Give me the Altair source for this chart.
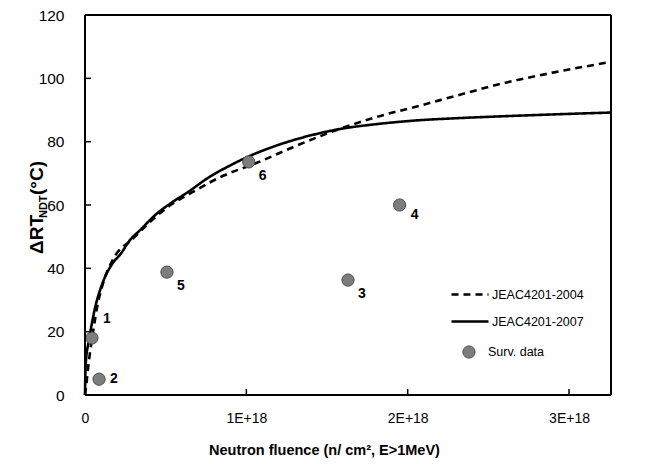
import altair as alt
import pandas as pd

# ---- data (x in units of 1E+18 n/cm2) ----
x_2007 = [0, 0.003, 0.01, 0.02, 0.03, 0.06, 0.11, 0.17, 0.22, 0.28, 0.34, 0.45, 0.53,
          0.65, 0.76, 0.9, 1.0, 1.2, 1.4, 1.58, 1.8, 2.08, 2.3, 2.58, 2.9, 3.26]
y_2007 = [0, 8, 13, 16, 19, 27, 35.5, 41.5, 44.5, 49, 52, 57.5, 60.5,
          64.5, 68.5, 72.5, 75, 79, 82, 84, 85.5, 86.8, 87.4, 88, 88.6, 89.2]
x_2004 = [0, 0.01, 0.02, 0.03, 0.05, 0.08, 0.11, 0.17, 0.3, 0.4, 0.53, 0.65, 0.86,
          1.05, 1.3, 1.55, 1.8, 2.07, 2.3, 2.58, 2.9, 3.26]
y_2004 = [0, 4, 9, 13, 20, 29, 35, 42.5, 49.5, 54.5, 60, 63.6, 69.3,
          73, 78.5, 83.5, 87.7, 91.3, 94.5, 98.3, 101.8, 105.2]
surv_x = [0.043, 0.087, 1.63, 1.95, 0.508, 1.015]
surv_y = [18.0, 5.0, 36.3, 60.0, 38.8, 73.6]
surv_lbl = ["1", "2", "3", "4", "5", "6"]
series_names = ["JEAC4201-2004", "JEAC4201-2007"]
x_tick_vals = [0, 1, 2, 3]
y_tick_vals = [0, 20, 40, 60, 80, 100, 120]

FONT = "'Liberation Sans', Arial, sans-serif"

curves = pd.concat([
    pd.DataFrame({"x": x_2004, "y": y_2004, "series": series_names[0], "o": range(len(x_2004))}),
    pd.DataFrame({"x": x_2007, "y": y_2007, "series": series_names[1], "o": range(len(x_2007))}),
])
pts = pd.DataFrame({"x": surv_x, "y": surv_y, "label": surv_lbl, "kind": "Surv. data"})
xt = pd.DataFrame({"v": x_tick_vals[1:]})
yt = pd.DataFrame({"v": y_tick_vals[1:-1]})

XS = alt.Scale(domain=[0, 3.26], nice=False, zero=False)
YS = alt.Scale(domain=[0, 120], nice=False, zero=False)
W, H = 526, 380

xaxis = alt.Axis(values=x_tick_vals, ticks=False, domain=False, grid=False,
                 labelExpr="datum.value == 0 ? '0' : datum.value + 'E+18'",
                 labelFont=FONT, labelFontSize=14, labelColor="black", labelPadding=16,
                 labelFlush=False,
                 title="Neutron fluence (n/ cm², E>1MeV)", titleFont=FONT, titleFontSize=14.5,
                 titleFontWeight="bold", titleColor="black", titleX=239, titleY=59,
                 titleAlign="center", titleBaseline="alphabetic")
yaxis = alt.Axis(values=y_tick_vals, ticks=False, domain=False, grid=False,
                 labelFont=FONT, labelFontSize=15.5, labelColor="black", labelPadding=21,
                 title=None)

lines = alt.Chart(curves).mark_line(color="black", strokeWidth=2.6, interpolate="monotone").encode(
    x=alt.X("x:Q", scale=XS, axis=xaxis),
    y=alt.Y("y:Q", scale=YS, axis=yaxis),
    order="o:Q",
    strokeDash=alt.StrokeDash("series:N",
        scale=alt.Scale(domain=series_names, range=[[7, 5], [1, 0]]),
        legend=alt.Legend(title=None, orient="none", legendX=365, legendY=259.5,
                          symbolType="stroke", symbolSize=1369, symbolStrokeWidth=2.6,
                          symbolStrokeColor="black", labelFont=FONT, labelFontSize=12.5,
                          labelColor="black", labelOffset=2, rowPadding=-8, padding=0)),
)

points = alt.Chart(pts).mark_circle(size=150, opacity=1, stroke="#4d4d4d", strokeWidth=1).encode(
    x=alt.X("x:Q", scale=XS),
    y=alt.Y("y:Q", scale=YS),
    color=alt.Color("kind:N", scale=alt.Scale(domain=["Surv. data"], range=["#7d7d7d"]),
        legend=alt.Legend(title=None, orient="none", legendX=377, legendY=330,
                          symbolType="circle", symbolSize=150, symbolStrokeColor="#4d4d4d",
                          symbolStrokeWidth=1, symbolOpacity=1,
                          labelFont=FONT, labelFontSize=12.5, labelColor="black",
                          labelOffset=12, padding=0)),
)

label_groups = [(["1"], 11, -19), (["2"], 11, 0), (["3", "5", "6"], 10, 14), (["4"], 11, 10)]
label_layers = []
for names, dx, dy in label_groups:
    label_layers.append(
        alt.Chart(pts).transform_filter(alt.FieldOneOfPredicate(field="label", oneOf=names))
        .mark_text(font=FONT, fontSize=14, fontWeight="bold", color="black",
                   align="left", baseline="middle", dx=dx, dy=dy)
        .encode(x=alt.X("x:Q", scale=XS), y=alt.Y("y:Q", scale=YS), text="label:N")
    )

xticks = alt.Chart(xt).mark_rule(color="black", strokeWidth=1.5).encode(
    x=alt.X("v:Q", scale=XS), y=alt.value(H), y2=alt.value(H - 6))
yticks = alt.Chart(yt).mark_rule(color="black", strokeWidth=1.5).encode(
    y=alt.Y("v:Q", scale=YS), x=alt.value(0), x2=alt.value(6))

one = pd.DataFrame({"a": [0]})
b_top = alt.Chart(one).mark_rule(color="black", strokeWidth=2).encode(
    x=alt.value(0), x2=alt.value(W), y=alt.value(0))
b_bot = alt.Chart(one).mark_rule(color="black", strokeWidth=2).encode(
    x=alt.value(0), x2=alt.value(W), y=alt.value(H))
b_left = alt.Chart(one).mark_rule(color="black", strokeWidth=2).encode(
    x=alt.value(0), y=alt.value(0), y2=alt.value(H))
b_right = alt.Chart(one).mark_rule(color="black", strokeWidth=2).encode(
    x=alt.value(W), y=alt.value(0), y2=alt.value(H))

t1 = alt.Chart(one).mark_text(text="ΔRT", font=FONT, fontSize=19, fontWeight="bold",
                              angle=270, align="left", baseline="alphabetic", color="black").encode(
    x=alt.value(-42), y=alt.value(239))
t2 = alt.Chart(one).mark_text(text="NDT", font=FONT, fontSize=11, fontWeight="bold",
                              angle=270, align="left", baseline="alphabetic", color="black").encode(
    x=alt.value(-38), y=alt.value(203))
t3 = alt.Chart(one).mark_text(text="(°C)", font=FONT, fontSize=19, fontWeight="bold",
                              angle=270, align="left", baseline="alphabetic", color="black").encode(
    x=alt.value(-42), y=alt.value(180))

chart = alt.layer(lines, points, *label_layers, xticks, yticks,
                  b_top, b_bot, b_left, b_right, t1, t2, t3).resolve_legend(
    strokeDash="independent", color="independent"
).properties(
    width=W, height=H,
    autosize=alt.AutoSizeParams(type="none"),
    padding={"left": 77, "top": 7, "right": 30, "bottom": 66},
).configure_view(stroke="black", strokeWidth=2).configure(background="white")

chart.save("out.html", embed_options={"renderer": "svg", "actions": False})
